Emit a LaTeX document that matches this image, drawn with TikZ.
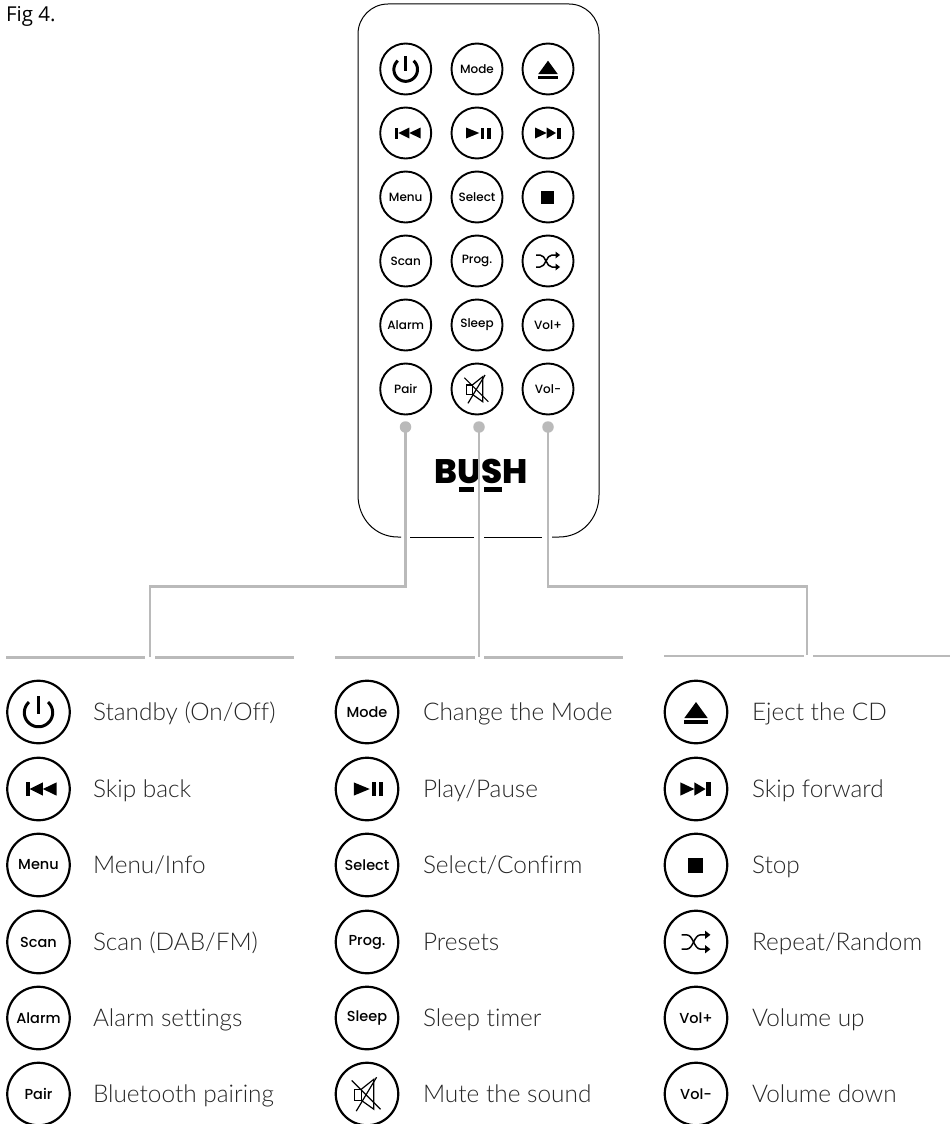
\documentclass[tikz,border=0pt]{standalone}
\usepackage{fontspec}
\setmainfont{Poppins Medium}[BoldFont=Poppins ExtraBold]
\newfontfamily\lightf{Lato Light}[Ligatures=NoCommon]
\newfontfamily\figf{Open Sans}
\tikzset{
  x=1pt,y=-1pt,
  inner sep=0pt,outer sep=0pt,
  rbtn/.style={circle,draw=black,line width=1.9pt,minimum size=51pt,font=\fontsize{12}{14}\selectfont},
  lbtn/.style={circle,draw=black,line width=2.2pt,minimum size=62.5pt,font=\fontsize{14.5}{17}\selectfont},
  desc/.style={anchor=base west,font=\lightf\fontsize{24.4}{29}\selectfont,text=black!85},
  lead/.style={draw=black!27,line width=2.4pt},
  dot/.style={circle,fill=black!27,minimum size=11.5pt},
  ipower/.pic={\draw[black,line width=3pt] plot[domain=-48:228,samples=40] ({11.8*cos(\x)},{0.5+11.8*sin(\x)});\draw[black,line width=3pt] (0,-13) -- (0,2);},
  ieject/.pic={\fill (0,-8.3) -- (9.7,5) -- (-9.7,5) -- cycle;\fill (-9.7,6.5) rectangle (9.7,9.7);},
  iprev/.pic={\fill (-10.7,-5.5) rectangle (-7.4,5.5);\fill (-7.4,0) -- (3.6,-5.5) -- (3.6,5.5) -- cycle;\fill (3.6,0) -- (15,-5.5) -- (15,5.5) -- cycle;},
  iplay/.pic={\fill (-11,-5.5) -- (2.3,0) -- (-11,5.5) -- cycle;\fill (4,-5.5) rectangle (7.3,5.5);\fill (9.7,-5.5) rectangle (13.7,5.5);},
  inext/.pic={\fill (-13,-5.5) -- (-1.3,0) -- (-13,5.5) -- cycle;\fill (-1.3,-5.5) -- (8,0) -- (-1.3,5.5) -- cycle;\fill (8.7,-5.5) rectangle (12.7,5.5);},
  istop/.pic={\fill (-7,-6) rectangle (6,7);},
  ishuf/.pic={
    \draw[black,line width=1.5pt] (-12,-6) -- (-8,-6) .. controls (-2,-6) and (-2,6) .. (4,6) -- (9,6);
    \draw[black,line width=1.5pt] (-12,6) -- (-8,6) .. controls (-2,6) and (-2,-6) .. (4,-6) -- (9,-6);
    \fill (7.5,-9.5) -- (12,-6) -- (7.5,-2.5) -- cycle;
    \fill (7.5,2.5) -- (12,6) -- (7.5,9.5) -- cycle;},
  imute/.pic={
    \draw[black,line width=1.2pt] (-4.7,-4) -- (-10.7,-4) -- (-10.7,5.3) -- (-4.7,5.3) -- cycle;
    \draw[black,line width=1.2pt] (-4.7,-4) -- (5.7,-12.3) -- (5.7,12.7) -- (-4.7,5.3);
    \draw[black,line width=1.2pt] (-12.7,-11.3) -- (11.3,12.7);
    \draw[black,line width=1.2pt] (8,-14) -- (-9,14.3);}
}
\newcommand{\rtxt}[4]{\node[rbtn] (#1) at (#2,#3) {#4};}
\newcommand{\ricon}[4]{\node[rbtn] (#1) at (#2,#3) {};\pic at (#1.center) {#4};}
\newcommand{\ltxt}[6]{\node[lbtn] (#1) at (#2,#3) {#4};\node[desc] (#1t) at (#5,#3+8.5) {#6};}
\newcommand{\licon}[6]{\node[lbtn] (#1) at (#2,#3) {};\pic[scale=1.2] at (#1.center) {#4};\node[desc] (#1t) at (#5,#3+8.5) {#6};}
\begin{document}
\begin{tikzpicture}
\path[use as bounding box,fill=white] (0,0) rectangle (950,1124);
\node[anchor=base west,font=\figf\fontsize{20.5}{24}\selectfont] (fig) at (6,21.5) {Fig 4.};

% remote body
\draw[black,line width=1pt]
  (552,537) -- (559,537) .. controls (582.2,537) and (599,518.2) .. (599,495)
  -- (599,34) .. controls (599,17.4) and (585.6,4) .. (569,4)
  -- (388,4) .. controls (371.4,4) and (358,17.4) .. (358,34)
  -- (358,495) .. controls (358,518.2) and (374.8,537) .. (398,537) -- (401,537);
\draw[black,line width=1pt] (410,537) -- (474,537);
\draw[black,line width=1pt] (484,537) -- (542,537);

% remote buttons
\ricon{ra}{405.7}{69}{ipower}
\rtxt{rb}{477}{69}{Mode}
\ricon{rc}{548}{69}{ieject}
\ricon{rd}{405.7}{133}{iprev}
\ricon{re}{477}{133}{iplay}
\ricon{rf}{548}{133}{inext}
\rtxt{rg}{405.7}{197}{Menu}
\rtxt{rh}{477}{197}{Select}
\ricon{ri}{548}{197}{istop}
\rtxt{rj}{405.7}{261}{Scan}
\rtxt{rk}{477}{261}{Prog.}
\ricon{rl}{548}{261}{ishuf}
\rtxt{rm}{405.7}{325}{Alarm}
\rtxt{rn}{477}{325}{Sleep}
\rtxt{ro}{548}{325}{Vol+}
\rtxt{rp}{405.7}{389}{Pair}
\ricon{rq}{477}{389}{imute}
\rtxt{rr}{548}{389}{Vol-}

% logo
\node[anchor=base,font=\bfseries\fontsize{34}{37}\selectfont,black] (logo) at (481,483) {BUSH};
\fill[black] (459,487) rectangle (474,492);
\fill[black] (484,487) rectangle (502,492);

% leads
\node[dot] (d1) at (405.5,427) {};
\node[dot] (d2) at (479,427) {};
\node[dot] (d3) at (548,427) {};
\coordinate (e1) at (150,586.5);
\coordinate (e3) at (807,586.5);
\coordinate (t1) at (150,657);
\coordinate (t2) at (479,657);
\coordinate (t3) at (807,655);
\draw[lead] (d1.center) |- (e1) -- (t1);
\draw[lead] (d2.center) -- (t2);
\draw[lead] (d3.center) |- (e3) -- (t3);
\foreach \a/\b/\y in {6/145/657.5,155/294/657.5,335/475/657.5,484/623/657.5,664/804/656,813/951/656}
  \draw[lead] (\a,\y) -- (\b,\y);

% legend col 1
\licon{la}{38.5}{712}{ipower}{93}{Standby (On/Off)}
\licon{lb}{38.5}{789}{iprev}{93}{Skip back}
\ltxt{lc}{38.5}{865}{Menu}{93}{Menu/Info}
\ltxt{ld}{38.5}{942}{Scan}{93}{Scan (DAB/FM)}
\ltxt{le}{38.5}{1018}{Alarm}{93}{Alarm settings}
\ltxt{lf}{38.5}{1094}{Pair}{93}{Bluetooth pairing}
% legend col 2
\ltxt{lg}{367}{712}{Mode}{423}{Change the Mode}
\licon{lh}{367}{789}{iplay}{423}{Play/Pause}
\ltxt{li}{367}{865}{Select}{423}{Select/Confirm}
\ltxt{lj}{367}{942}{Prog.}{423}{Presets}
\ltxt{lk}{367}{1018}{Sleep}{423}{Sleep timer}
\licon{ll}{367}{1094}{imute}{423}{Mute the sound}
% legend col 3
\licon{lm}{696}{712}{ieject}{752}{Eject the CD}
\licon{ln}{696}{789}{inext}{752}{Skip forward}
\licon{lo}{696}{865}{istop}{752}{Stop}
\licon{lp}{696}{942}{ishuf}{752}{Repeat/Random}
\ltxt{lq}{696}{1018}{Vol+}{752}{Volume up}
\ltxt{lr}{696}{1094}{Vol-}{752}{Volume down}
\end{tikzpicture}
\end{document}
